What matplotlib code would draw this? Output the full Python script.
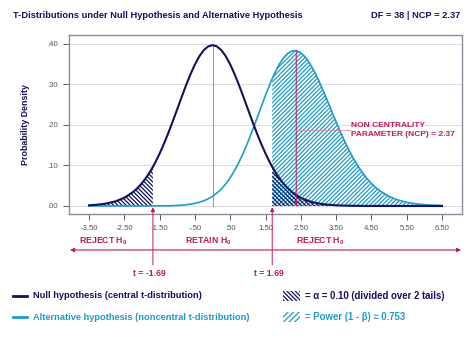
import matplotlib.pyplot as plt
from matplotlib.patches import Rectangle
from matplotlib.lines import Line2D
import numpy as np

plt.rcParams['font.family'] = ['Liberation Sans', 'DejaVu Sans']
plt.rcParams['mathtext.fontset'] = 'custom'
plt.rcParams['mathtext.rm'] = 'Liberation Sans'
plt.rcParams['mathtext.bf'] = 'Liberation Sans:bold'
plt.rcParams['hatch.linewidth'] = 0.9

NAVY = '#12125e'
TEAL = '#1e9cc6'
CRIMSON = '#c2185b'
GRAYTXT = '#555566'

# t values read along the x axis
t_vals = [-3.5, -3.25, -3.0, -2.75, -2.5, -2.25, -2.125, -2.0, -1.875, -1.75, -1.69,
          -1.625, -1.5, -1.375, -1.25, -1.125, -1.0, -0.875, -0.75, -0.625, -0.5,
          -0.375, -0.25, -0.125, 0.0, 0.125, 0.25, 0.375, 0.5, 0.625, 0.75,
          0.875, 1.0, 1.125, 1.25, 1.375, 1.5, 1.625, 1.69, 1.75, 1.875,
          2.0, 2.125, 2.25, 2.37, 2.5, 2.625, 2.75, 2.875, 3.0, 3.125,
          3.25, 3.375, 3.5, 3.625, 3.75, 3.875, 4.0, 4.125, 4.25, 4.375,
          4.5, 4.625, 4.75, 5.0, 5.25, 5.5, 5.75, 6.0, 6.25, 6.5]
# density of the null (central) t-distribution
null_density = [0.0017, 0.0033, 0.0063, 0.0115, 0.0203, 0.0346, 0.0443, 0.0563, 0.0706, 0.0874, 0.0965,
                0.1069, 0.1291, 0.1537, 0.1806, 0.2092, 0.2388, 0.2686, 0.2976, 0.3247, 0.3487,
                0.3688, 0.3838, 0.3931, 0.3963, 0.3931, 0.3838, 0.3688, 0.3487, 0.3247, 0.2976,
                0.2686, 0.2388, 0.2092, 0.1806, 0.1537, 0.1291, 0.1069, 0.0965, 0.0874, 0.0706,
                0.0563, 0.0443, 0.0346, 0.0269, 0.0203, 0.0154, 0.0115, 0.0085, 0.0063, 0.0046,
                0.0033, 0.0024, 0.0017, 0.0012, 0.0009, 0.0006, 0.0004, 0.0003, 0.0002, 0.0001,
                0.0001, 0.0001, 0.0, 0.0, 0.0, 0.0, 0.0, 0.0, 0.0, 0.0]
# density of the alternative (noncentral) t-distribution
alt_density = [0.0, 0.0, 0.0, 0.0, 0.0, 0.0, 0.0, 0.0, 0.0001, 0.0001, 0.0001,
               0.0002, 0.0003, 0.0004, 0.0006, 0.0009, 0.0014, 0.0021, 0.0031, 0.0045, 0.0065,
               0.0092, 0.0128, 0.0176, 0.0239, 0.0320, 0.0421, 0.0546, 0.0697, 0.0876, 0.1082,
               0.1315, 0.1573, 0.1851, 0.2141, 0.2437, 0.2727, 0.3003, 0.3137, 0.3253, 0.3467,
               0.3638, 0.3756, 0.3820, 0.3827, 0.3774, 0.3670, 0.3520, 0.3327, 0.3106, 0.2859,
               0.2601, 0.2336, 0.2074, 0.1821, 0.1581, 0.1360, 0.1157, 0.0976, 0.0816, 0.0676,
               0.0555, 0.0453, 0.0367, 0.0236, 0.0148, 0.0092, 0.0055, 0.0033, 0.0020, 0.0011]

t_crit = 1.69
ncp = 2.37
x_ticks = [-3.5, -2.5, -1.5, -0.5, 0.5, 1.5, 2.5, 3.5, 4.5, 5.5, 6.5]
x_ticklabels = ['-3.50', '-2.50', '-1.50', '-.50', '.50', '1.50', '2.50', '3.50', '4.50', '5.50', '6.50']
y_ticks = [0.0, 0.1, 0.2, 0.3, 0.4]
y_ticklabels = ['.00', '.10', '.20', '.30', '.40']

t = np.array(t_vals)
f0 = np.array(null_density)
f1 = np.array(alt_density)

fig = plt.figure(figsize=(4.74, 3.38), dpi=100)
ax = fig.add_axes([0.1456, 0.3669, 0.8291, 0.5295])

HATCH_POWER = '////////'
HATCH_ALPHA = '\\\\\\\\\\\\\\\\'

# hatched areas
right = t >= t_crit
left = t <= -t_crit
ax.fill_between(t[right], 0, f1[right], facecolor='white', edgecolor=TEAL,
                hatch=HATCH_POWER, linewidth=0, zorder=2)
ax.fill_between(t[left], 0, f0[left], facecolor='none', edgecolor=NAVY,
                hatch=HATCH_ALPHA, linewidth=0, zorder=3)
ax.fill_between(t[right], 0, f0[right], facecolor='none', edgecolor=NAVY,
                hatch=HATCH_ALPHA, linewidth=0, zorder=3)

# mean line of the null distribution
i0 = t_vals.index(0.0)
ax.plot([0, 0], [0, f0[i0]], color='#8080b0', lw=0.6, zorder=2)

ax.plot(t, f1, color=TEAL, lw=1.2, zorder=4)
ax.plot(t, f0, color=NAVY, lw=1.5, zorder=5)

# NCP marker
i_ncp = t_vals.index(ncp)
ax.annotate('', xy=(ncp, 0.0), xytext=(ncp, f1[i_ncp]),
            arrowprops=dict(arrowstyle='-|>', color=CRIMSON, lw=0.7,
                            mutation_scale=6, shrinkA=0, shrinkB=0), zorder=6)
ax.plot([ncp, 3.88], [0.187, 0.187], color='#d58aaa', lw=0.6, zorder=6)
ax.text(3.92, 0.187, 'NON CENTRALITY\nPARAMETER (NCP) = 2.37', color=CRIMSON,
        fontsize=6.0, fontweight='bold', va='center', ha='left', linespacing=1.45, zorder=7)

# critical value arrows
xt = ax.get_xaxis_transform()
for c, lab in [(-t_crit, 't = -1.69'), (t_crit, 't = 1.69')]:
    ax.annotate('', xy=(c, -0.003), xycoords='data', xytext=(c, -0.285), textcoords=xt,
                arrowprops=dict(arrowstyle='-|>', color=CRIMSON, lw=0.7,
                                mutation_scale=6, shrinkA=0, shrinkB=0),
                annotation_clip=False)
    ax.text(c - 0.1, -0.33, lab, transform=xt, color=CRIMSON, fontsize=6.2,
            fontweight='bold', ha='center', va='center')

# decision arrow and labels
ax.annotate('', xy=(-4.04, -0.201), xycoords=xt, xytext=(7.04, -0.201), textcoords=xt,
            arrowprops=dict(arrowstyle='<|-|>', color=CRIMSON, lw=0.8,
                            mutation_scale=6, shrinkA=0, shrinkB=0),
            annotation_clip=False)
for xpos, lab in [(-3.1, r'REJECT H$_\mathbf{0}$'), (-0.13, r'RETAIN H$_\mathbf{0}$'),
                  (3.04, r'REJECT H$_\mathbf{0}$')]:
    ax.text(xpos, -0.151, lab, transform=xt, color=CRIMSON, fontsize=6.3,
            fontweight='bold', ha='center', va='center')

ax.set_xlim(-4.067, 7.067)
ax.set_ylim(-0.0197, 0.4212)
ax.set_xticks(x_ticks)
ax.set_xticklabels(x_ticklabels)
ax.set_yticks(y_ticks)
ax.set_yticklabels(y_ticklabels)
ax.tick_params(axis='both', colors=GRAYTXT, labelsize=5.6, length=4, width=0.7, pad=4)
ax.grid(axis='y', color='#dcdce4', lw=0.8)
ax.set_axisbelow(True)
for sp in ax.spines.values():
    sp.set_color('#8c8c9c')
    sp.set_linewidth(1.0)

ax.set_ylabel('Probability Density', fontsize=6.4, fontweight='bold', color=NAVY)
ax.yaxis.set_label_coords(-0.099, 0.5)

# title row
fig.text(0.027, 0.955, 'T-Distributions under Null Hypothesis and Alternative Hypothesis',
         fontsize=6.7, fontweight='bold', color=NAVY, va='center', ha='left')
fig.text(0.972, 0.955, 'DF = 38 | NCP = 2.37', fontsize=6.7, fontweight='bold',
         color=NAVY, va='center', ha='right')

# legend
fig.add_artist(Line2D([0.027, 0.057], [0.1243, 0.1243], color=NAVY, lw=2))
fig.text(0.0696, 0.1243, 'Null hypothesis (central t-distribution)', fontsize=6.7,
         fontweight='bold', color=NAVY, va='center', ha='left')
fig.add_artist(Line2D([0.027, 0.057], [0.0621, 0.0621], color=TEAL, lw=2))
fig.text(0.0696, 0.0621, 'Alternative hypothesis (noncentral t-distribution)', fontsize=6.7,
         fontweight='bold', color=TEAL, va='center', ha='left')
fig.add_artist(Rectangle((0.597, 0.108), 0.036, 0.032, transform=fig.transFigure,
                         facecolor='white', edgecolor=NAVY, hatch=HATCH_ALPHA, linewidth=0))
fig.text(0.643, 0.1243, '= \u03b1 = 0.10 (divided over 2 tails)', fontsize=6.9,
         fontweight='bold', color=NAVY, va='center', ha='left')
fig.add_artist(Rectangle((0.597, 0.046), 0.036, 0.032, transform=fig.transFigure,
                         facecolor='white', edgecolor=TEAL, hatch='//////', linewidth=0))
fig.text(0.643, 0.0621, '= Power (1 - \u03b2) \u2248 0.753', fontsize=6.9,
         fontweight='bold', color=TEAL, va='center', ha='left')

fig.savefig('out.png', dpi=100)
